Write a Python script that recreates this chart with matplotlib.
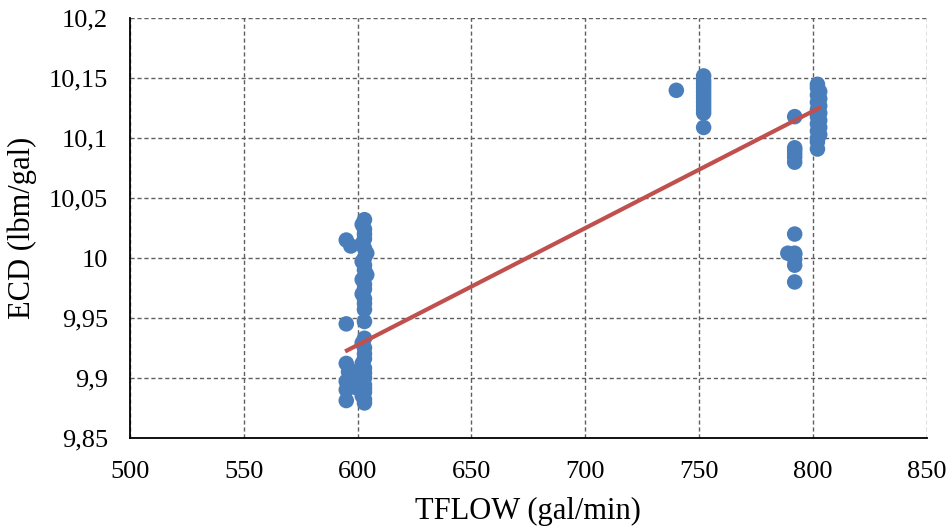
import matplotlib
matplotlib.use("Agg")
import matplotlib.pyplot as plt
from matplotlib.ticker import FuncFormatter

# ---- data ----
x_603 = [603, 602, 603, 603, 603, 602, 603, 604, 603, 602, 603, 603, 604, 602, 603, 603, 602, 603, 603, 603,
         603, 603, 602, 603, 603, 603, 602, 603, 603, 603, 602, 603, 603, 603, 602, 603, 603]
y_603 = [10.032, 10.028, 10.024, 10.020, 10.016, 10.012, 10.008, 10.004, 10.000, 9.997, 9.994, 9.990, 9.986,
         9.982, 9.978, 9.974, 9.970, 9.966, 9.962, 9.957, 9.947, 9.933, 9.929, 9.925, 9.920, 9.916, 9.912,
         9.908, 9.904, 9.900, 9.897, 9.894, 9.891, 9.888, 9.885, 9.882, 9.879]

x_595 = [595, 597, 595, 595, 596, 597, 595, 598, 599, 600, 596, 595, 595, 598, 599]
y_595 = [10.015, 10.010, 9.945, 9.912, 9.905, 9.900, 9.897, 9.895, 9.905, 9.900, 9.893, 9.890, 9.881, 9.898, 9.892]

x_750 = [740, 752, 752, 752, 752, 752, 752, 752, 752, 752, 752, 752, 752]
y_750 = [10.140, 10.152, 10.148, 10.145, 10.142, 10.139, 10.136, 10.133, 10.130, 10.127, 10.124, 10.121, 10.109]

x_792 = [792, 792, 792, 792, 792, 792, 792, 792, 792, 789, 792, 792, 792]
y_792 = [10.118, 10.092, 10.090, 10.087, 10.084, 10.080, 10.020, 10.004, 10.003, 10.004, 9.999, 9.994, 9.980]

x_803 = [802, 802, 803, 802, 803, 802, 803, 802, 803, 802, 803, 802, 803, 802, 803, 802, 802, 802]
y_803 = [10.145, 10.142, 10.139, 10.136, 10.133, 10.130, 10.127, 10.124, 10.121, 10.118, 10.115, 10.112,
         10.109, 10.106, 10.103, 10.100, 10.097, 10.091]

tflow = x_603 + x_595 + x_750 + x_792 + x_803
ecd = y_603 + y_595 + y_750 + y_792 + y_803

trend_x = [594.5, 803.5]
trend_y = [9.922, 10.126]

x_ticks = [500, 550, 600, 650, 700, 750, 800, 850]
y_ticks = [9.85, 9.90, 9.95, 10.00, 10.05, 10.10, 10.15, 10.20]

# ---- figure ----
plt.rcParams['font.family'] = ['Liberation Serif', 'DejaVu Serif']
fig = plt.figure(figsize=(9.49, 5.27), dpi=100)
ax = fig.add_axes([0.137, 0.1695, 0.8395, 0.7955])

ax.scatter(tflow, ecd, s=125, color='#4A7EBB', edgecolors='none', zorder=3)
ax.plot(trend_x, trend_y, color='#C0504D', linewidth=3, solid_capstyle='butt', zorder=4)

ax.set_xlim(500, 850)
ax.set_ylim(9.85, 10.2)
ax.set_xticks(x_ticks)
ax.set_yticks(y_ticks)

def comma(v, pos):
    s = ('%.2f' % v).rstrip('0').rstrip('.')
    return s.replace('.', ',')

ax.yaxis.set_major_formatter(FuncFormatter(comma))
ax.xaxis.set_major_formatter(FuncFormatter(comma))
ax.tick_params(axis='both', length=0, labelsize=19, colors='black')
ax.tick_params(axis='x', pad=17)
ax.tick_params(axis='y', pad=16)

ax.grid(True, color='#5f5f5f', linestyle=(0, (3, 2)), linewidth=1.0, zorder=0)
ax.set_axisbelow(True)
for side in ['top', 'right']:
    ax.spines[side].set_visible(False)
for side in ['left', 'bottom']:
    ax.spines[side].set_color('black')
    ax.spines[side].set_linewidth(1.3)

ax.set_xlabel('TFLOW (gal/min)', fontsize=22, labelpad=10)
ax.set_ylabel('ECD (lbm/gal)', fontsize=22, labelpad=8)

fig.savefig('out.png', dpi=100)
